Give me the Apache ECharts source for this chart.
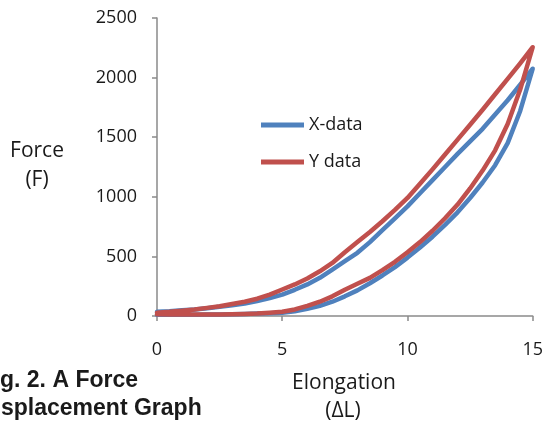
<!DOCTYPE html>
<html>
<head>
<meta charset="utf-8">
<script src="https://cdn.jsdelivr.net/npm/echarts@6/dist/echarts.min.js"></script>
<style>
  html, body { margin: 0; padding: 0; background: #fff; }
  #chart { width: 546px; height: 426px; }
</style>
</head>
<body>
<div id="chart"></div>
<script>
// elongation steps shared by loading and unloading paths
const elongation = [0, 0.5, 1, 1.5, 2, 2.5, 3, 3.5, 4, 4.5, 5, 5.5, 6, 6.5, 7, 7.5,
  8, 8.5, 9, 9.5, 10, 10.5, 11, 11.5, 12, 12.5, 13, 13.5, 14, 14.5, 15];

// X-data (blue): lower branch going out, upper branch coming back
const xLoad = [10, 10, 10, 11, 12, 13, 15, 17, 20, 24, 28, 40, 60, 85, 120, 165,
  215, 275, 340, 410, 490, 575, 665, 765, 870, 990, 1120, 1265, 1450, 1720, 2075];
const xUnload = [35, 40, 48, 55, 65, 77, 90, 105, 125, 150, 180, 220, 265, 320, 390, 460,
  530, 620, 720, 820, 920, 1030, 1140, 1250, 1360, 1465, 1570, 1690, 1810, 1940, 2075];

// Y data (red)
const yLoad = [15, 13, 12, 12, 12, 13, 14, 16, 20, 27, 36, 55, 85, 120, 165, 220,
  270, 320, 385, 455, 535, 620, 715, 820, 935, 1070, 1220, 1390, 1610, 1900, 2255];
const yUnload = [28, 35, 45, 55, 68, 82, 100, 120, 145, 180, 222, 265, 315, 375, 445, 535,
  620, 705, 795, 890, 990, 1110, 1230, 1355, 1480, 1605, 1730, 1860, 1990, 2120, 2255];

const xTicks = [0, 5, 10, 15];
const yTicks = [0, 500, 1000, 1500, 2000, 2500];
const seriesNames = ["X-data", "Y data"];
const colors = ["#4F81BD", "#C0504D"];

// build a closed loop: out along load, back along unload
function loop(load, unload) {
  const out = elongation.map((e, i) => [e, load[i]]);
  const back = elongation.map((e, i) => [e, unload[i]]).reverse().slice(1);
  return out.concat(back);
}

const labelFont = "Open Sans";
const ink = "#1a1a1a";
const chart = echarts.init(document.getElementById("chart"));

function title(text, x, y, size, extra) {
  return {
    type: "text", x: x, y: y,
    style: Object.assign({ text: text, fontSize: size, fontFamily: labelFont, fill: ink,
      align: "center", verticalAlign: "middle" }, extra || {})
  };
}

chart.setOption({
  animation: false,
  grid: { left: 157, right: 12, top: 18, bottom: 110 },
  xAxis: {
    type: "value",
    min: xTicks[0],
    max: xTicks[xTicks.length - 1],
    interval: 5,
    splitLine: { show: false },
    axisLine: { show: true, lineStyle: { color: "#8a8a8a", width: 1.5 } },
    axisTick: { show: true, length: 5, lineStyle: { color: "#8a8a8a", width: 1.5 } },
    axisLabel: { margin: 25, fontSize: 18, color: ink, fontFamily: labelFont }
  },
  yAxis: {
    type: "value",
    min: yTicks[0],
    max: yTicks[yTicks.length - 1],
    interval: 500,
    splitLine: { show: false },
    axisLine: { show: true, lineStyle: { color: "#8a8a8a", width: 1.5 } },
    axisTick: { show: true, length: 5, lineStyle: { color: "#8a8a8a", width: 1.5 } },
    axisLabel: { margin: 20, fontSize: 18, color: ink, fontFamily: labelFont,
      formatter: v => String(v) }
  },
  legend: {
    orient: "vertical",
    left: 256,
    top: 110,
    icon: "rect",
    itemWidth: 43,
    itemHeight: 5,
    itemGap: 17,
    data: seriesNames,
    textStyle: { fontSize: 18, lineHeight: 20, color: ink, fontFamily: labelFont }
  },
  series: [
    {
      name: seriesNames[0],
      type: "line",
      data: loop(xLoad, xUnload),
      symbol: "none",
      color: colors[0],
      lineStyle: { width: 4.5, color: colors[0], join: "round", cap: "round" }
    },
    {
      name: seriesNames[1],
      type: "line",
      data: loop(yLoad, yUnload),
      symbol: "none",
      color: colors[1],
      lineStyle: { width: 4.5, color: colors[1], join: "round", cap: "round" }
    }
  ],
  graphic: [
    title("Force", 37, 151, 21),
    title("(F)", 37, 180, 21),
    title("Elongation", 344, 383, 21),
    title("(ΔL)", 343, 411, 21),
    title("g. 2. A Force", 0, 381, 23,
      { fontWeight: "bold", fontFamily: "Liberation Sans", align: "left" }),
    title("splacement Graph", 1, 409, 23,
      { fontWeight: "bold", fontFamily: "Liberation Sans", align: "left" })
  ]
});
</script>
</body>
</html>
